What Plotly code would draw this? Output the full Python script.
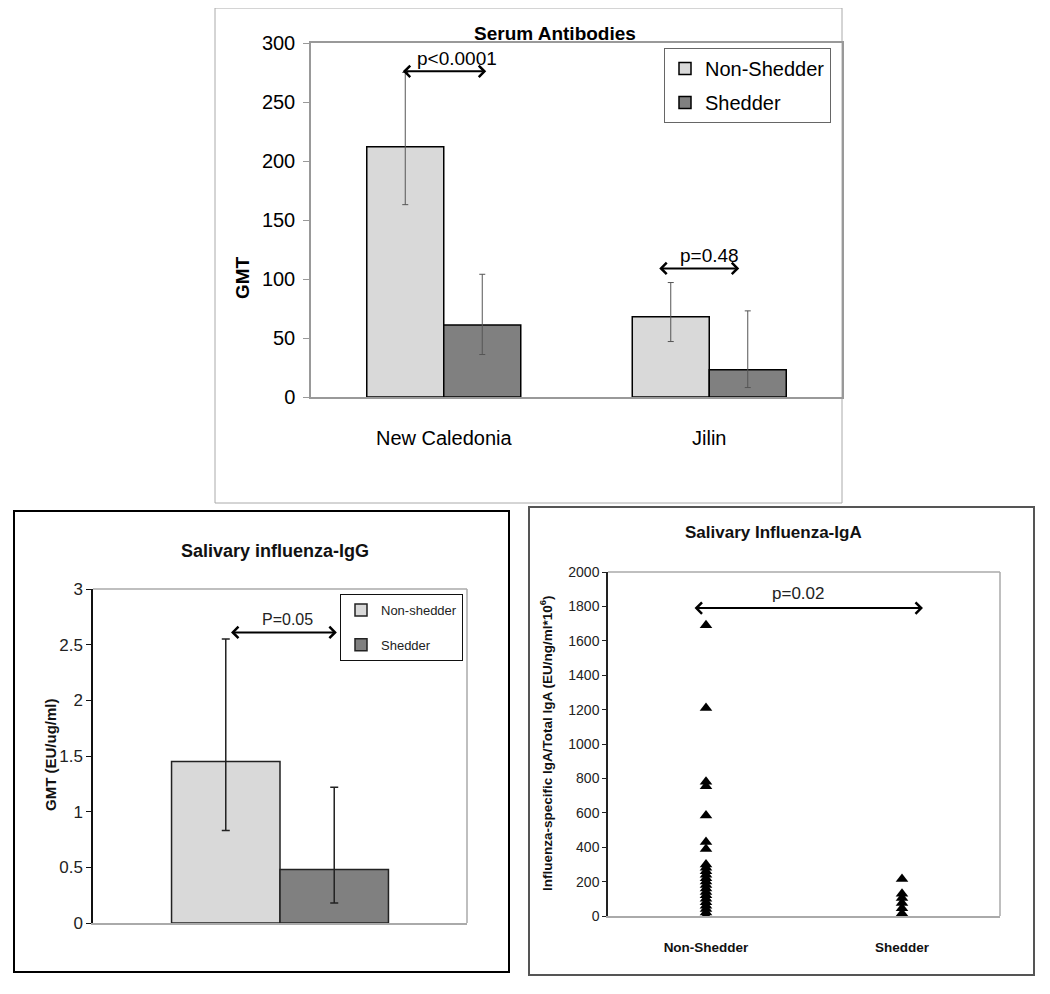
import plotly.graph_objects as go

W, H = 1050, 994
OFF = 8  # page body margin of the exported html
FONT = "Liberation Sans, Arial, Helvetica, sans-serif"

# ---------------- data ----------------
# Serum antibodies (GMT)
serum_cats = ["New Caledonia", "Jilin"]
serum_non = [212, 68]
serum_non_hi = [275, 97]
serum_non_lo = [163, 47]
serum_shed = [61, 23]
serum_shed_hi = [104, 73]
serum_shed_lo = [36, 8]
serum_yticks = [0, 50, 100, 150, 200, 250, 300]
serum_ptext = ["p<0.0001", "p=0.48"]

# Salivary influenza-IgG (GMT EU/ug/ml)
igg_cat = ["IgG"]
igg_non = [1.45]
igg_non_hi = [2.55]
igg_non_lo = [0.83]
igg_shed = [0.48]
igg_shed_hi = [1.22]
igg_shed_lo = [0.18]
igg_yticks = [0, 0.5, 1, 1.5, 2, 2.5, 3]
igg_yticktext = ["0", "0.5", "1", "1.5", "2", "2.5", "3"]
igg_ptext = "P=0.05"

# Salivary influenza-IgA ratio
iga_cats = ["Non-Shedder", "Shedder"]
iga_non = [1690, 1210, 780, 755, 585, 430, 390, 300, 280, 260, 240, 220, 200,
           180, 160, 140, 120, 100, 80, 60, 40, 20, 0]
iga_shed = [215, 130, 105, 75, 45, 15, 0]
iga_yticks = list(range(0, 2001, 200))
iga_ptext = "p=0.02"

LIGHT = "#d9d9d9"
DARK = "#808080"


def px_x(p):
    return (p - OFF) / W


def px_y(p):
    return 1 - (p - OFF) / H


def errs(vals, hi, lo):
    return [h - v for v, h in zip(vals, hi)], [v - l for v, l in zip(vals, lo)]


fig = go.Figure()

# ---- top: serum ----
up, dn = errs(serum_non, serum_non_hi, serum_non_lo)
fig.add_trace(go.Bar(
    x=serum_cats, y=serum_non, name="Non-Shedder", xaxis="x", yaxis="y",
    marker=dict(color=LIGHT, line=dict(color="black", width=1.5)),
    error_y=dict(type="data", array=up, arrayminus=dn, color="#555", thickness=1, width=3),
    legend="legend", legendgroup="n1", offsetgroup="a"))
up, dn = errs(serum_shed, serum_shed_hi, serum_shed_lo)
fig.add_trace(go.Bar(
    x=serum_cats, y=serum_shed, name="Shedder", xaxis="x", yaxis="y",
    marker=dict(color=DARK, line=dict(color="black", width=1.5)),
    error_y=dict(type="data", array=up, arrayminus=dn, color="#555", thickness=1, width=3),
    legend="legend", legendgroup="s1", offsetgroup="b"))

# ---- bottom-left: IgG ----
up, dn = errs(igg_non, igg_non_hi, igg_non_lo)
fig.add_trace(go.Bar(
    x=igg_cat, y=igg_non, name="Non-shedder", xaxis="x2", yaxis="y2",
    marker=dict(color=LIGHT, line=dict(color="#222", width=1.5)),
    error_y=dict(type="data", array=up, arrayminus=dn, color="#222", thickness=1.5, width=4),
    legend="legend2", legendgroup="n2", offsetgroup="a"))
up, dn = errs(igg_shed, igg_shed_hi, igg_shed_lo)
fig.add_trace(go.Bar(
    x=igg_cat, y=igg_shed, name="Shedder", xaxis="x2", yaxis="y2",
    marker=dict(color=DARK, line=dict(color="#222", width=1.5)),
    error_y=dict(type="data", array=up, arrayminus=dn, color="#222", thickness=1.5, width=4),
    legend="legend2", legendgroup="s2", offsetgroup="b"))

# ---- bottom-right: IgA scatter ----
fig.add_trace(go.Scatter(
    x=[iga_cats[0]] * len(iga_non), y=iga_non, mode="markers", xaxis="x3", yaxis="y3",
    marker=dict(symbol="triangle-up", size=11, color="black"), showlegend=False))
fig.add_trace(go.Scatter(
    x=[iga_cats[1]] * len(iga_shed), y=iga_shed, mode="markers", xaxis="x3", yaxis="y3",
    marker=dict(symbol="triangle-up", size=11, color="black"), showlegend=False))

annotations = []
shapes = []


def label(x, y, text, size, xref="paper", yref="paper", angle=0, color="black", **kw):
    annotations.append(dict(xref=xref, yref=yref, x=x, y=y, text=text, showarrow=False,
                            xanchor="center", yanchor="middle", textangle=angle,
                            font=dict(family=FONT, size=size, color=color), **kw))


def arrow(xref, yref, x0, x1, y, width=2):
    annotations.append(dict(
        xref=xref, yref=yref, axref=xref, ayref=yref, x=x1, y=y, ax=x0, ay=y,
        text="", showarrow=True, arrowhead=4, startarrowhead=4, arrowside="end+start",
        arrowwidth=width, arrowsize=1.1, startarrowsize=1.1, arrowcolor="black"))


# titles
label(px_x(555), px_y(33), "<b>Serum Antibodies</b>", 19)
label(px_x(242), px_y(278), "<b>GMT</b>", 19, angle=-90)
label(px_x(275), px_y(551), "<b>Salivary influenza-IgG</b>", 18, color="#111")
label(px_x(50), px_y(755), "<b>GMT (EU/ug/ml)</b>", 15, angle=-90, color="#111")
label(px_x(773), px_y(532), "<b>Salivary Influenza-IgA</b>", 17, color="#111")
label(px_x(546), px_y(743),
      "<b>Influenza-specific IgA/Total IgA (EU/ng/ml*10<sup>6</sup>)</b>", 13.5,
      angle=-90, color="#111")

# p-value arrows and texts
arrow("x", "y", -0.16, 0.16, 276)
label(0.05, 276, serum_ptext[0], 19, xref="x", yref="y", yshift=13)
arrow("x", "y", 0.806, 1.113, 109)
label(1.0, 109, serum_ptext[1], 19, xref="x", yref="y", yshift=13)
arrow("x2", "y2", -0.135, 0.152, 2.61)
label(0.02, 2.61, igg_ptext, 16, xref="x2", yref="y2", color="#222", yshift=13)
arrow("x3", "y3", -0.066, 1.107, 1790)
label(0.47, 1790, iga_ptext, 17, xref="x3", yref="y3", color="#222", yshift=15)

# panel frames
shapes.append(dict(type="rect", xref="paper", yref="paper",
                   x0=px_x(215), x1=px_x(842), y0=px_y(503), y1=px_y(8),
                   line=dict(color="#aaa", width=1), layer="below"))
shapes.append(dict(type="rect", xref="paper", yref="paper",
                   x0=px_x(14), x1=px_x(509), y0=px_y(972), y1=px_y(511),
                   line=dict(color="black", width=2), layer="below"))
shapes.append(dict(type="rect", xref="paper", yref="paper",
                   x0=px_x(529), x1=px_x(1034), y0=px_y(975), y1=px_y(507),
                   line=dict(color="#555", width=2), layer="below"))
# plot-area borders (gray right/top) for the lower panels
for xr, yr in (("x2 domain", "y2 domain"), ("x3 domain", "y3 domain")):
    shapes.append(dict(type="line", xref=xr, yref=yr, x0=0, x1=1, y0=1, y1=1,
                       line=dict(color="#aaa", width=1.5)))
    shapes.append(dict(type="line", xref=xr, yref=yr, x0=1, x1=1, y0=0, y1=1,
                       line=dict(color="#aaa", width=1.5)))

axis_common = dict(showgrid=False, zeroline=False, fixedrange=True, automargin=False)

fig.update_layout(
    template="none",
    width=W, height=H, margin=dict(l=0, r=0, t=0, b=0, autoexpand=False),
    paper_bgcolor="white", plot_bgcolor="white",
    barmode="group", bargap=0.42, bargroupgap=0,
    font=dict(family=FONT, color="black"),
    xaxis=dict(domain=[px_x(311), px_x(842)], anchor="y", type="category",
               range=[-0.5, 1.5], showline=True, linecolor="#999", linewidth=1.5,
               mirror=True, ticks="", ticklabelstandoff=22,
               tickfont=dict(family=FONT, size=20, color="black"), **axis_common),
    yaxis=dict(domain=[px_y(397), px_y(43)], anchor="x", range=[0, 300],
               tickvals=serum_yticks, showline=True, linecolor="#999", linewidth=1.5,
               mirror=True, ticks="outside", ticklen=6, tickcolor="#999",
               ticklabelstandoff=4,
               tickfont=dict(family=FONT, size=20, color="black"), **axis_common),
    xaxis2=dict(domain=[px_x(93), px_x(467)], anchor="y2", type="category",
                range=[-0.5, 0.5], showline=True, linecolor="#aaa", linewidth=1.5,
                ticks="", showticklabels=False, **axis_common),
    yaxis2=dict(domain=[px_y(923), px_y(589)], anchor="x2", range=[0, 3],
                tickvals=igg_yticks, ticktext=igg_yticktext, showline=True,
                linecolor="#111", linewidth=1.5, ticks="outside", ticklen=5,
                tickcolor="#111", tickfont=dict(family=FONT, size=17, color="#222"),
                **axis_common),
    xaxis3=dict(domain=[px_x(608), px_x(1000)], anchor="y3", type="category",
                range=[-0.5, 1.5], showline=True, linecolor="#aaa", linewidth=1.5,
                ticks="", ticklabelstandoff=18,
                tickfont=dict(family=FONT, size=13.5, color="#111"),
                tickprefix="<b>", ticksuffix="</b>", **axis_common),
    yaxis3=dict(domain=[px_y(916), px_y(572)], anchor="x3", range=[0, 2000],
                tickvals=iga_yticks, showline=True, linecolor="#222", linewidth=1.5,
                ticks="outside", ticklen=4, tickcolor="#222",
                tickfont=dict(family=FONT, size=14, color="#222"), **axis_common),
    legend=dict(x=px_x(664), y=px_y(48), xanchor="left", yanchor="top",
                bgcolor="white", bordercolor="#666", borderwidth=1,
                font=dict(family=FONT, size=20, color="black"),
                traceorder="grouped", itemwidth=30, tracegroupgap=5),
    legend2=dict(x=px_x(340), y=px_y(594), xanchor="left", yanchor="top",
                 bgcolor="white", bordercolor="#111", borderwidth=1,
                 font=dict(family=FONT, size=13, color="#222"),
                 traceorder="grouped", itemwidth=30, tracegroupgap=15),
    annotations=annotations, shapes=shapes,
)

fig.write_html("out.html")
